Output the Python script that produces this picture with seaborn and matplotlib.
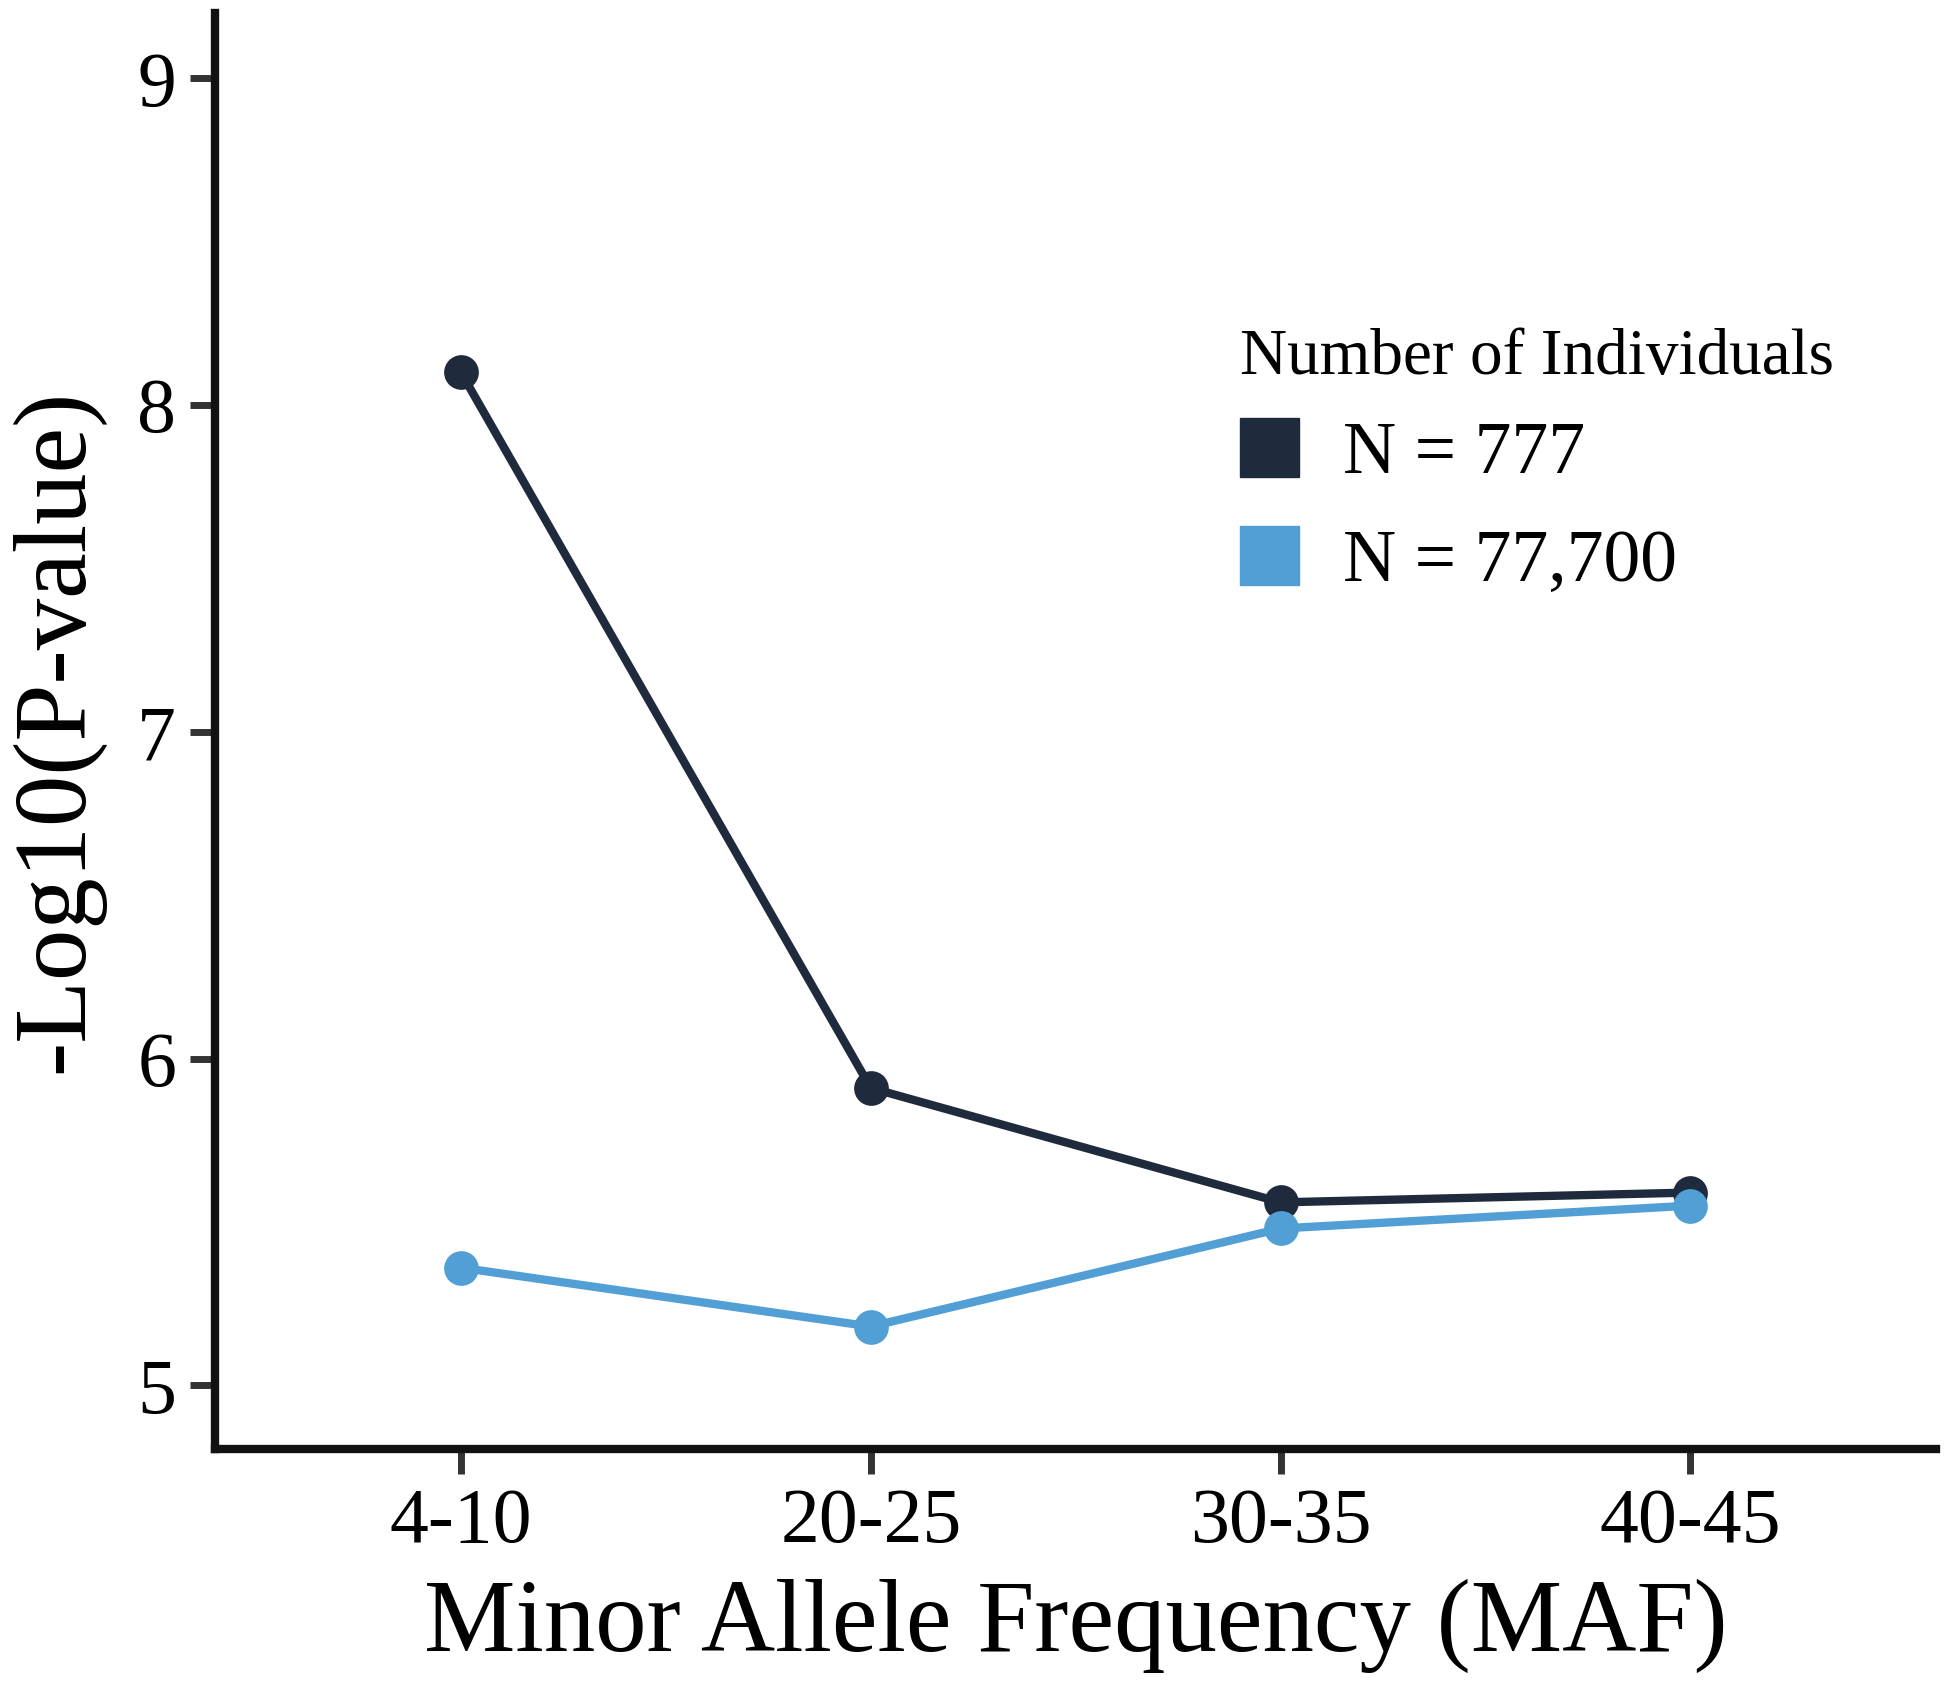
import numpy as np
import pandas as pd
import seaborn as sns
import matplotlib.pyplot as plt
from matplotlib.patches import Patch

# values
maf_bins = ["4-10", "20-25", "30-35", "40-45"]
n_small = [8.10, 5.91, 5.56, 5.59]
n_large = [5.36, 5.18, 5.48, 5.55]
group_labels = ["N = 777", "N = 77,700"]
colors = ["#1f2a3c", "#529fd6"]

df = pd.DataFrame({
    "MAF": maf_bins * 2,
    "logp": n_small + n_large,
    "group": [group_labels[0]] * 4 + [group_labels[1]] * 4,
})

sns.set_style("ticks")
plt.rcParams["font.family"] = ["Liberation Serif", "DejaVu Serif"]
plt.rcParams["text.color"] = "black"
plt.rcParams["axes.labelcolor"] = "black"
plt.rcParams["xtick.labelcolor"] = "black"
plt.rcParams["ytick.labelcolor"] = "black"

fig = plt.figure(figsize=(19.5, 16.93), dpi=100)
ax = fig.add_axes([0.1103, 0.1441, 0.8827, 0.8482])

sns.lineplot(data=df, x="MAF", y="logp", hue="group",
             palette=dict(zip(group_labels, colors)),
             hue_order=group_labels, marker="o", markersize=25,
             markeredgewidth=0, linewidth=6, ax=ax, legend=False)

ax.set_xlim(-0.6, 3.6)
ax.set_ylim(4.805, 9.2)
ax.set_yticks([5, 6, 7, 8, 9])
ax.set_xlabel("Minor Allele Frequency (MAF)", fontsize=74, labelpad=14)
ax.set_ylabel("-Log10(P-value)", fontsize=74, labelpad=24)
ax.tick_params(axis="both", labelsize=56, length=18, width=5, color="#333333",
               pad=10)

sns.despine(ax=ax)
for side in ["left", "bottom"]:
    ax.spines[side].set_linewidth(6)
    ax.spines[side].set_color("#111111")

handles = [Patch(facecolor=c, edgecolor=c) for c in colors]
leg = ax.legend(handles, group_labels, title="Number of Individuals",
                loc="upper left", bbox_to_anchor=(0.574, 0.806),
                frameon=False, fontsize=53, title_fontsize=47,
                handlelength=0.8, handleheight=0.85, handletextpad=0.6,
                labelspacing=0.5, borderpad=0)
leg._legend_box.align = "left"
leg._legend_box.sep = 22

fig.savefig("out.png", dpi=100)
